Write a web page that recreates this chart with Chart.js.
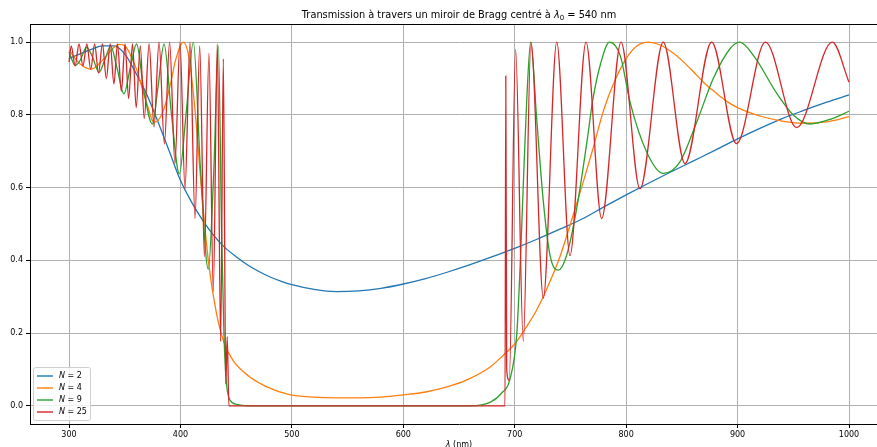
<!DOCTYPE html>
<html>
<head>
<meta charset="utf-8">
<script src="https://cdn.jsdelivr.net/npm/chart.js@4"></script>
<style>
html, body { margin:0; padding:0; background:#fff; overflow:hidden; }
#wrap { width:877px; height:447px; overflow:hidden; position:relative; }
canvas { position:absolute; left:0; top:0; }
</style>
</head>
<body>
<div id="wrap"><canvas id="c" width="910" height="470" style="width:910px;height:470px"></canvas></div>
<script>
// wavelength (nm) / transmission
const lam2 = [300,310,320,330,340,350,360,370,380,390,400,410,420,430,440,450,460,470,480,490,500,520,540,560,580,600,620,640,660,680,700,720,740,760,780,800,820,840,860,880,900,920,940,960,980,1000];
const t2   = [0.955,0.968,0.98,0.99,0.99,0.968,0.915,0.855,0.78,0.70,0.62,0.56,0.51,0.468,0.435,0.41,0.388,0.37,0.355,0.343,0.333,0.32,0.314,0.316,0.323,0.335,0.35,0.368,0.388,0.41,0.433,0.458,0.485,0.513,0.547,0.58,0.612,0.643,0.673,0.703,0.734,0.763,0.79,0.813,0.835,0.855];

const lam4 = [300,310,320,330,340,345,350,360,370,376,380,385.6,391.4,395.6,402.6,407.5,412.9,418.8,425,432,439.6,447.8,462,477,498,520,540,560,580,600,620,640,656,678,690,700,710,720,730,740,750,760,770,780,790,800,810,820,830,840,850,860,870,880,890,900,920,940,960,980,1000];
const t4   = [0.978,0.94,0.926,0.95,0.985,0.994,0.99,0.93,0.83,0.78,0.785,0.82,0.89,0.95,1.0,0.96,0.82,0.60,0.40,0.26,0.17,0.122,0.08,0.053,0.031,0.024,0.022,0.022,0.024,0.03,0.038,0.053,0.07,0.107,0.14,0.17,0.215,0.265,0.33,0.405,0.50,0.60,0.705,0.815,0.895,0.955,0.99,1.0,0.993,0.975,0.95,0.92,0.888,0.862,0.838,0.82,0.797,0.783,0.777,0.781,0.795];

const lam9 = [300,305.6,310,315.8,321,326.9,332,337.4,343,349.3,355,360.7,367,374.8,380,385.3,392,399,405,411.6,418,425,430,434,437,439.1,440.9,444.5,450.5,460,660,678.7,688.6,695.4,701.8,704.8,707.7,710.7,714.3,719.7,725.7,731.7,739.1,746.6,755.6,765,770,777,785,795,803.5,818.4,833.3,848.3,863.3,878.2,893.2,902,915,935,950,965,985,1000];
const t9   = [0.973,0.936,0.95,0.986,0.96,0.917,0.95,0.989,0.93,0.858,0.93,0.995,0.87,0.775,0.88,0.995,0.80,0.638,0.80,1.0,0.65,0.376,0.65,0.99,0.47,0.195,0.075,0.016,0.004,0.0,0.0,0.011,0.036,0.07,0.195,0.378,0.607,0.835,1.0,0.79,0.561,0.414,0.373,0.414,0.542,0.73,0.84,0.94,1.0,0.96,0.835,0.698,0.639,0.671,0.78,0.90,0.982,1.0,0.96,0.86,0.80,0.775,0.79,0.81];

const lam25 = [300,302,305.5,309,312.5,316,319.5,323,326.5,330,333.5,337,340.3,343.5,347,350.3,353.5,357,360.3,364,367.5,371.9,376.3,380.8,385.6,390.3,395.1,399.6,404.1,408.6,413.1,417.3,421.5,425.6,429.5,433.1,436.1,438.5,440.7,442,443.5,689.3,691.3,692,692.8,695.1,700.8,707.7,714.6,725.7,737.7,749.6,764,778,795.4,812.4,833.3,852.8,876.7,899,925,953,985,1000];
const t25   = [0.945,0.99,0.935,0.995,0.935,0.995,0.925,0.995,0.915,0.995,0.90,0.995,0.885,0.995,0.865,0.995,0.845,0.995,0.82,0.99,0.79,0.995,0.767,1.0,0.72,1.0,0.666,1.0,0.597,1.0,0.515,0.99,0.41,0.97,0.314,0.995,0.177,0.954,0.06,0.19,0.0,0.0,0.0,0.907,0.1,0.07,0.98,0.177,1.0,0.296,1.0,0.413,1.0,0.515,1.0,0.597,1.0,0.666,1.0,0.721,1.0,0.765,1.0,0.89];

const xTicks = [300,400,500,600,700,800,900,1000];
const yTicks = [0.0,0.2,0.4,0.6,0.8,1.0];

function pts(xs, ys) { return xs.map((x, i) => ({x: x, y: ys[i]})); }

const FONT = "'DejaVu Sans', sans-serif";

const decor = {
  id: 'decor',
  afterDraw(chart) {
    const ctx = chart.ctx, a = chart.chartArea;
    ctx.save();
    ctx.strokeStyle = '#000';
    ctx.lineWidth = 1;
    ctx.beginPath();
    ctx.moveTo(a.left, a.top + 0.5);
    ctx.lineTo(a.right, a.top + 0.5);
    ctx.stroke();

    // title with lambda_0
    ctx.fillStyle = '#000';
    ctx.textBaseline = 'alphabetic';
    const parts = [
      ['Transmission à travers un miroir de Bragg centré à ', '9.8px ' + FONT, 0],
      ['λ', 'italic 9.8px ' + FONT, 0],
      ['0', '7px ' + FONT, 2],
      [' = 540 nm', '9.8px ' + FONT, 0]
    ];
    let w = 0;
    parts.forEach(p => { ctx.font = p[1]; w += ctx.measureText(p[0]).width; });
    let x = (a.left + a.right) / 2 - w / 2;
    parts.forEach(p => { ctx.font = p[1]; ctx.fillText(p[0], x, 18 + p[2]); x += ctx.measureText(p[0]).width; });

    // x label
    const l1 = 'λ', l2 = ' (nm)';
    ctx.font = 'italic 8px ' + FONT; const w1 = ctx.measureText(l1).width;
    ctx.font = '8px ' + FONT; const w2 = ctx.measureText(l2).width;
    let lx = (a.left + a.right) / 2 - (w1 + w2) / 2;
    ctx.font = 'italic 8px ' + FONT; ctx.fillText(l1, lx, 447);
    ctx.font = '8px ' + FONT; ctx.fillText(l2, lx + w1, 447);

    // legend
    const bx = 33, by = 367, bw = 57, bh = 53;
    ctx.beginPath();
    ctx.roundRect(bx + 0.5, by + 0.5, bw, bh, 2);
    ctx.fillStyle = 'rgba(255,255,255,0.8)';
    ctx.fill();
    ctx.strokeStyle = '#d0d0d0';
    ctx.stroke();
    chart.data.datasets.forEach((d, i) => {
      const y = by + 9 + i * 12;
      ctx.strokeStyle = d.borderColor;
      ctx.lineWidth = 1.4;
      ctx.beginPath();
      ctx.moveTo(37, y); ctx.lineTo(53, y);
      ctx.stroke();
      ctx.fillStyle = '#000';
      ctx.textBaseline = 'middle';
      ctx.font = 'italic 8px ' + FONT;
      ctx.fillText('N', 59, y);
      const nw = ctx.measureText('N').width;
      ctx.font = '8px ' + FONT;
      ctx.fillText(' = ' + d.label, 59 + nw, y);
    });
    ctx.restore();
  }
};

function line(label, xs, ys, color, order) {
  return {
    label: label,
    data: pts(xs, ys),
    borderColor: color,
    borderWidth: 1.3,
    pointRadius: 0,
    fill: false,
    cubicInterpolationMode: 'monotone',
    order: order
  };
}

new Chart(document.getElementById('c'), {
  type: 'line',
  data: {
    datasets: [
      line('2', lam2, t2, '#1f77b4', 3),
      line('4', lam4, t4, '#ff7f0e', 2),
      line('9', lam9, t9, '#2ca02c', 1),
      line('25', lam25, t25, '#d62728', 0)
    ]
  },
  options: {
    responsive: false,
    animation: false,
    parsing: false,
    layout: { padding: { left: 0, right: 22, top: 24, bottom: 0 } },
    plugins: { legend: { display: false }, title: { display: false }, tooltip: { enabled: false } },
    scales: {
      x: {
        type: 'linear',
        min: 265, max: 1035,
        afterFit(s) { s.height = 46; },
        afterBuildTicks(s) { s.ticks = xTicks.map(v => ({value: v})); },
        grid: { color: '#b0b0b0', lineWidth: 1, tickLength: 4, tickColor: '#000' },
        border: { color: '#000', width: 1 },
        ticks: { color: '#000', font: { family: FONT, size: 8 }, padding: 2, maxRotation: 0,
                 callback: v => String(v) }
      },
      y: {
        type: 'linear',
        min: -0.05, max: 1.05,
        afterFit(s) { s.width = 30; },
        afterBuildTicks(s) { s.ticks = yTicks.map(v => ({value: v})); },
        grid: { color: '#b0b0b0', lineWidth: 1, tickLength: 4, tickColor: '#000' },
        border: { color: '#000', width: 1 },
        ticks: { color: '#000', font: { family: FONT, size: 8 }, padding: 3,
                 callback: v => v.toFixed(1) }
      }
    }
  },
  plugins: [decor]
});
</script>
</body>
</html>
